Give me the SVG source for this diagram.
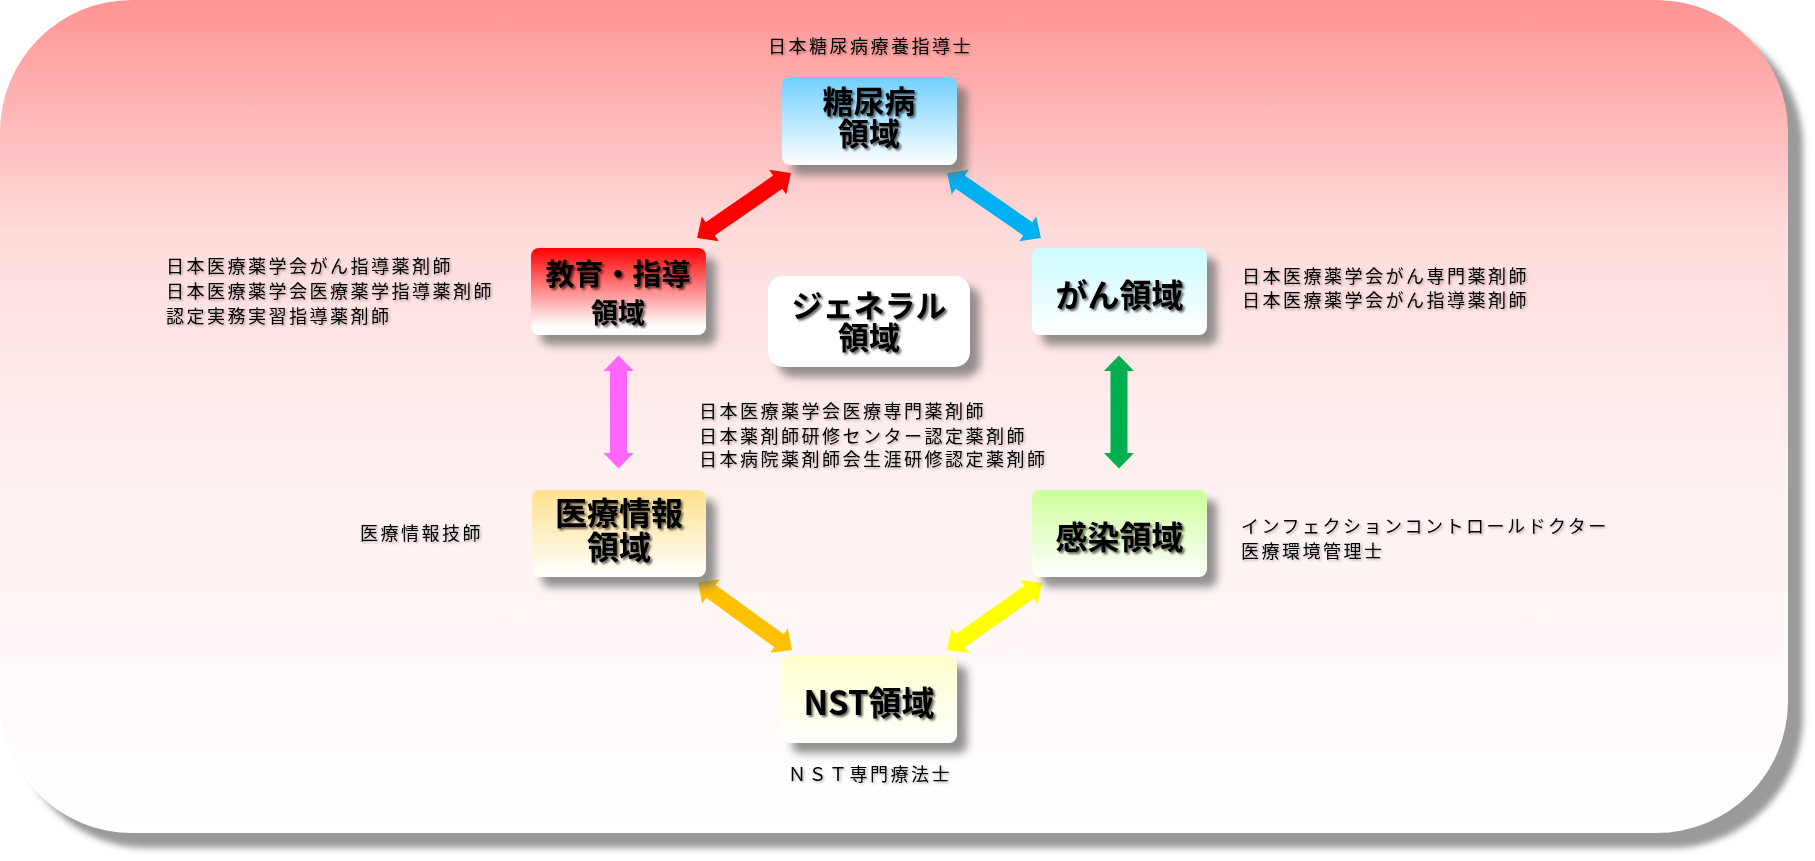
<svg xmlns="http://www.w3.org/2000/svg" width="1815" height="861" viewBox="0 0 1815 861">
<defs>
<linearGradient id="bg" x1="0" y1="0" x2="0" y2="1">
<stop offset="0" stop-color="#ff9494"/>
<stop offset="0.28" stop-color="#ffdcdc"/>
<stop offset="0.55" stop-color="#fff0f0"/>
<stop offset="1" stop-color="#ffffff"/>
</linearGradient>
<linearGradient id="gBlue" x1="0" y1="0" x2="0" y2="1"><stop offset="0" stop-color="#6fd0ff"/><stop offset="1" stop-color="#ffffff"/></linearGradient>
<linearGradient id="gRed" x1="0" y1="0" x2="0" y2="1"><stop offset="0" stop-color="#ff0000"/><stop offset="0.9" stop-color="#ffffff"/></linearGradient>
<linearGradient id="gCyan" x1="0" y1="0" x2="0" y2="1"><stop offset="0" stop-color="#ccfcff"/><stop offset="1" stop-color="#ffffff"/></linearGradient>
<linearGradient id="gGold" x1="0" y1="0" x2="0" y2="1"><stop offset="0" stop-color="#ffe08c"/><stop offset="1" stop-color="#ffffff"/></linearGradient>
<linearGradient id="gGreen" x1="0" y1="0" x2="0" y2="1"><stop offset="0" stop-color="#ccff99"/><stop offset="1" stop-color="#ffffff"/></linearGradient>
<linearGradient id="gYel" x1="0" y1="0" x2="0" y2="1"><stop offset="0" stop-color="#ffffcc"/><stop offset="1" stop-color="#ffffff"/></linearGradient>
<filter id="cardShadow" x="-5%" y="-5%" width="110%" height="110%"><feGaussianBlur stdDeviation="3"/></filter>
<filter id="boxShadow" x="-20%" y="-20%" width="140%" height="140%"><feGaussianBlur stdDeviation="4"/></filter>
<filter id="tShadow" x="-10%" y="-30%" width="120%" height="160%"><feDropShadow dx="2" dy="2" stdDeviation="1.3" flood-color="#000" flood-opacity="0.6"/></filter>
<filter id="aShadow" x="-10%" y="-30%" width="120%" height="160%"><feDropShadow dx="1.5" dy="1.5" stdDeviation="1" flood-color="#000" flood-opacity="0.3"/></filter>
</defs>
<style>
.box{stroke:none}
.bsh{fill:#6e6e6e;opacity:0.75}
.bt{font-family:"Noto Sans CJK JP","Noto Sans",sans-serif;font-weight:700;fill:#000;text-anchor:middle;filter:url(#tShadow)}
.an{font-family:"Noto Sans CJK JP","Noto Sans",sans-serif;font-size:18px;letter-spacing:2.5px;fill:#000;filter:url(#aShadow)}
</style>
<rect x="15" y="15" width="1788" height="833" rx="132" fill="#9a9a9a" filter="url(#cardShadow)"/>
<rect x="0" y="0" width="1788" height="833" rx="132" fill="url(#bg)"/>

<g id="connectors">
<path transform="translate(744,205.5) rotate(-34.66)" fill="#ff0000" d="M-57 0 L-41 -15 L-41 -8 L41 -8 L41 -15 L57 0 L41 15 L41 8 L-41 8 L-41 15 Z"/>
<path transform="translate(994,205.5) rotate(34.66)" fill="#00b0f0" d="M-57 0 L-41 -15 L-41 -8 L41 -8 L41 -15 L57 0 L41 15 L41 8 L-41 8 L-41 15 Z"/>
<path transform="translate(618.5,412) rotate(90)" fill="#ff66ff" d="M-56.5 0 L-41 -15 L-41 -8.5 L41 -8.5 L41 -15 L56.5 0 L41 15 L41 8.5 L-41 8.5 L-41 15 Z"/>
<path transform="translate(1119,412) rotate(90)" fill="#00b050" d="M-56.5 0 L-41 -15 L-41 -8.5 L41 -8.5 L41 -15 L56.5 0 L41 15 L41 8.5 L-41 8.5 L-41 15 Z"/>
<path transform="translate(745,616) rotate(35.9)" fill="#ffc000" d="M-58 0 L-42 -15 L-42 -8 L42 -8 L42 -15 L58 0 L42 15 L42 8 L-42 8 L-42 15 Z"/>
<path transform="translate(994.5,616.5) rotate(-35.2)" fill="#ffff00" d="M-58 0 L-42 -15 L-42 -8 L42 -8 L42 -15 L58 0 L42 15 L42 8 L-42 8 L-42 15 Z"/>
</g>

<g id="node-diabetes">
<rect class="bsh" x="792" y="87" width="175" height="88" rx="8" filter="url(#boxShadow)"/>
<rect class="box" x="782" y="77" width="175" height="88" rx="8" fill="url(#gBlue)"/>
<text class="bt" font-size="31"><tspan x="869" y="113">糖尿病</tspan><tspan x="869" y="145">領域</tspan></text>
</g>

<g id="node-education">
<rect class="bsh" x="541" y="258" width="175" height="87" rx="8" filter="url(#boxShadow)"/>
<rect class="box" x="531" y="248" width="175" height="87" rx="8" fill="url(#gRed)"/>
<text class="bt" font-size="29"><tspan x="618" y="285">教育・指導</tspan><tspan x="618" y="323" font-size="27">領域</tspan></text>
</g>

<g id="node-general">
<rect class="bsh" x="778" y="286" width="202" height="91" rx="15" filter="url(#boxShadow)"/>
<rect class="box" x="768" y="276" width="202" height="91" rx="15" fill="#ffffff"/>
<text class="bt" font-size="31"><tspan x="869" y="316.5">ジェネラル</tspan><tspan x="869" y="348.5">領域</tspan></text>
</g>

<g id="node-cancer">
<rect class="bsh" x="1042" y="258" width="175" height="87" rx="8" filter="url(#boxShadow)"/>
<rect class="box" x="1032" y="248" width="175" height="87" rx="8" fill="url(#gCyan)"/>
<text class="bt" x="1119.5" y="307" font-size="32">がん領域</text>
</g>

<g id="node-medinfo">
<rect class="bsh" x="542" y="500" width="174" height="87" rx="8" filter="url(#boxShadow)"/>
<rect class="box" x="532" y="490" width="174" height="87" rx="8" fill="url(#gGold)"/>
<text class="bt" font-size="32"><tspan x="619" y="525">医療情報</tspan><tspan x="619" y="559">領域</tspan></text>
</g>

<g id="node-infection">
<rect class="bsh" x="1042" y="500" width="175" height="87" rx="8" filter="url(#boxShadow)"/>
<rect class="box" x="1032" y="490" width="175" height="87" rx="8" fill="url(#gGreen)"/>
<text class="bt" x="1119.5" y="549" font-size="32">感染領域</text>
</g>

<g id="node-nst">
<rect class="bsh" x="792" y="666" width="175" height="87" rx="8" filter="url(#boxShadow)"/>
<rect class="box" x="782" y="656" width="175" height="87" rx="8" fill="url(#gYel)"/>
<text class="bt" x="869" y="715" font-size="33">NST領域</text>
</g>

<g id="annotations">
<text class="an" x="768" y="53">日本糖尿病療養指導士</text>
<text class="an"><tspan x="166" y="273">日本医療薬学会がん指導薬剤師</tspan><tspan x="166" y="298">日本医療薬学会医療薬学指導薬剤師</tspan><tspan x="166" y="323">認定実務実習指導薬剤師</tspan></text>
<text class="an"><tspan x="1242" y="282.5">日本医療薬学会がん専門薬剤師</tspan><tspan x="1242" y="306.5">日本医療薬学会がん指導薬剤師</tspan></text>
<text class="an"><tspan x="699" y="417.5">日本医療薬学会医療専門薬剤師</tspan><tspan x="699" y="442.5">日本薬剤師研修センター認定薬剤師</tspan><tspan x="699" y="466">日本病院薬剤師会生涯研修認定薬剤師</tspan></text>
<text class="an" x="360" y="539.5">医療情報技師</text>
<text class="an"><tspan x="1241" y="532.5">インフェクションコントロールドクター</tspan><tspan x="1241" y="558">医療環境管理士</tspan></text>
<text class="an" x="788" y="780.5">ＮＳＴ専門療法士</text>
</g>
</svg>
